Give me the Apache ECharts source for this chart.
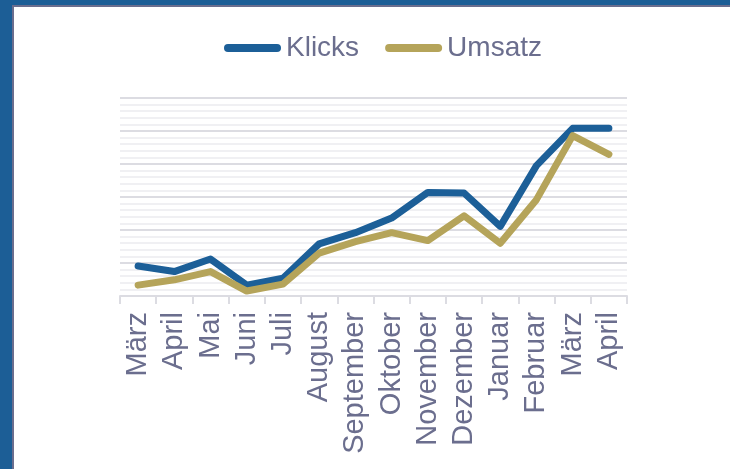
<!doctype html>
<html lang="de">
<head>
<meta charset="utf-8">
<title>Klicks und Umsatz</title>
<script src="https://cdn.jsdelivr.net/npm/echarts@6/dist/echarts.min.js"></script>
<style>
  html, body { margin: 0; height: 100%; background: #1c5e96; overflow: hidden; }
  #frame { position: absolute; left: 12px; top: 5px; right: 0; bottom: 0;
           border-left: 2px solid #6b6e8e; border-top: 2px solid #6b6e8e; background: #fff; }
  #chart { width: 716px; height: 462px; }
</style>
</head>
<body>
<div id="frame"><div id="chart"></div></div>
<script>
// Monate (x-Achse)
const months = ['März', 'April', 'Mai', 'Juni', 'Juli', 'August', 'September', 'Oktober',
                'November', 'Dezember', 'Januar', 'Februar', 'März', 'April']
// Werte (y-Achse ohne Beschriftung, 0..6)
const klicks = [0.91, 0.74, 1.12, 0.33, 0.54, 1.58, 1.92, 2.36, 3.14, 3.12, 2.11, 3.95, 5.08, 5.08]
const umsatz = [0.33, 0.49, 0.74, 0.15, 0.36, 1.30, 1.65, 1.92, 1.68, 2.43, 1.60, 2.92, 4.86, 4.29]

const textColor = '#6b6e8e'
const font = 'Liberation Sans, Arial, sans-serif'
const pill = 'path://M4,0 H53 A4,4 0 0 1 53,8 H4 A4,4 0 0 1 4,0 Z'

const chart = echarts.init(document.getElementById('chart'))
chart.setOption({
  animation: false,
  legend: {
    top: 22,
    left: 205,
    itemWidth: 57,
    itemHeight: 8,
    itemGap: 26,
    textStyle: { color: textColor, fontSize: 28, fontFamily: font },
    data: [
      { name: 'Klicks', icon: pill },
      { name: 'Umsatz', icon: pill }
    ]
  },
  grid: { left: 106, right: 103, top: 91, bottom: 173 },
  xAxis: {
    type: 'category',
    data: months,
    boundaryGap: true,
    axisLine: { lineStyle: { color: '#dcdce2', width: 2 } },
    axisTick: { show: true, length: 8, lineStyle: { color: '#dcdce2', width: 2 } },
    axisLabel: { rotate: 90, margin: 16, color: textColor, fontSize: 29, fontFamily: font, interval: 0 }
  },
  yAxis: {
    type: 'value',
    min: 0,
    max: 6,
    interval: 1,
    axisLabel: { show: false },
    axisLine: { show: false },
    axisTick: { show: false },
    splitLine: { lineStyle: { color: '#dcdce2', width: 2 } },
    minorTick: { show: false, splitNumber: 5 },
    minorSplitLine: { show: true, lineStyle: { color: '#f0f0f3', width: 2 } }
  },
  series: [
    {
      name: 'Klicks', type: 'line', data: klicks, symbol: 'none',
      itemStyle: { color: '#1c5f98' },
      lineStyle: { color: '#1c5f98', width: 7, cap: 'round', join: 'round' }
    },
    {
      name: 'Umsatz', type: 'line', data: umsatz, symbol: 'none',
      itemStyle: { color: '#b5a45a' },
      lineStyle: { color: '#b5a45a', width: 7, cap: 'round', join: 'round' }
    }
  ]
})
</script>
</body>
</html>
